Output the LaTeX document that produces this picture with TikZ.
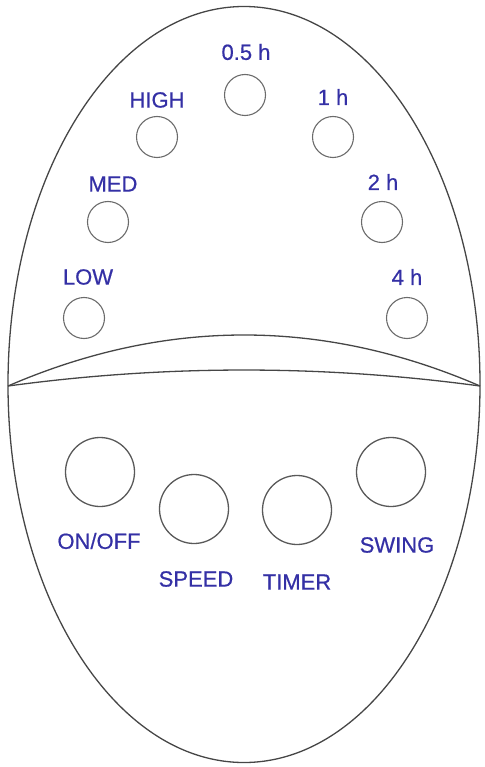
\documentclass[tikz,border=0pt]{standalone}
\usepackage{fontspec}
\setmainfont{Liberation Sans}
\newfontfamily\labfont{Liberation Sans}[FakeBold=0.6]
\usetikzlibrary{shapes.geometric}
\definecolor{lbl}{RGB}{52,48,165}
\definecolor{ln}{RGB}{70,70,70}
\begin{document}
\begin{tikzpicture}[x=1pt,y=-1pt,
  lab/.style={text=lbl,font=\labfont\fontsize{22}{22}\selectfont,inner sep=0pt,anchor=center},
  sbtn/.style={draw=ln!80,line width=1.1pt,circle,minimum size=41pt,inner sep=0pt},
  bbtn/.style={draw=ln!90,line width=1.3pt,circle,minimum size=69pt,inner sep=0pt},
  outline/.style={draw=ln,line width=1.3pt}]
\useasboundingbox (0,0) rectangle (484,767);
% body
\node[outline,ellipse,minimum width=472pt,minimum height=756pt,inner sep=0pt] (body) at (244,384.5) {};
% separator
\coordinate (sl) at (8,386);
\coordinate (sr) at (480,386);
\draw[outline] (sl) .. controls (165.3,318) and (322.7,318) .. (sr);
\draw[outline] (sl) .. controls (165.3,364.7) and (322.7,364.7) .. (sr);
% small buttons
\node[sbtn] (b05) at (245,95) {};
\node[sbtn] (bhigh) at (157,137) {};
\node[sbtn] (bmed) at (108,222) {};
\node[sbtn] (blow) at (84,318) {};
\node[sbtn] (b1) at (333,137) {};
\node[sbtn] (b2) at (382,222) {};
\node[sbtn] (b4) at (407,318) {};
% small labels
\node[lab] (t05) at (246,52) {0.5 h};
\node[lab] (thigh) at (157,100) {HIGH};
\node[lab] (tmed) at (113,184) {MED};
\node[lab] (tlow) at (88,277) {LOW};
\node[lab] (t1) at (333,97) {1 h};
\node[lab] (t2) at (383,182) {2 h};
\node[lab] (t4) at (407,277) {4 h};
% big buttons
\node[bbtn] (bon) at (100,472) {};
\node[bbtn] (bspeed) at (194,509) {};
\node[bbtn] (btimer) at (297,510) {};
\node[bbtn] (bswing) at (391,472) {};
% big labels
\node[lab] (ton) at (99,541) {ON/OFF};
\node[lab] (tspeed) at (196,579) {SPEED};
\node[lab] (ttimer) at (297,582) {TIMER};
\node[lab] (tswing) at (397,545) {SWING};
\end{tikzpicture}
\end{document}
